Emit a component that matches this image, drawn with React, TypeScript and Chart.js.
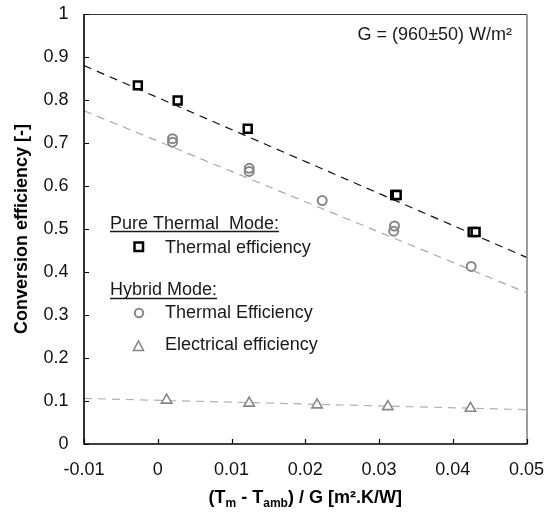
import React, { useEffect, useRef } from 'react';
import { Chart, registerables } from 'chart.js';

Chart.register(...registerables);

const FONT = '"Liberation Sans", Arial, Helvetica, sans-serif';

// ---- Data ----
const xTickValues = [-0.01, 0, 0.01, 0.02, 0.03, 0.04, 0.05];
const yTickValues = [0, 0.1, 0.2, 0.3, 0.4, 0.5, 0.6, 0.7, 0.8, 0.9, 1];

const pureThermalX = [-0.0027, 0.0027, 0.0122, 0.0322, 0.0324, 0.0427, 0.0431];
const pureThermalY = [0.834, 0.799, 0.733, 0.579, 0.579, 0.493, 0.493];

const hybridThermalX = [0.002, 0.002, 0.0124, 0.0124, 0.0223, 0.0321, 0.032, 0.0425];
const hybridThermalY = [0.71, 0.702, 0.641, 0.634, 0.566, 0.507, 0.495, 0.413];

const electricalX = [0.0012, 0.0124, 0.0216, 0.0312, 0.0424];
const electricalY = [0.102, 0.095, 0.091, 0.087, 0.083];

const trendX = [-0.01, 0.05];
const pureThermalTrendY = [0.88, 0.434];
const hybridThermalTrendY = [0.775, 0.352];
const electricalTrendY = [0.106, 0.08];

const annotationText = 'G = (960±50) W/m²';

const zip = (xs: number[], ys: number[]) => xs.map((x, i) => ({ x, y: ys[i] }));

const MARKER_GRAY = '#878787';

const decorPlugin = {
  id: 'decor',
  afterDatasetsDraw(chart: any) {
    const ctx: CanvasRenderingContext2D = chart.ctx;
    const { left, right, top, bottom } = chart.chartArea;
    const xs = chart.scales.x;
    const ys = chart.scales.y;
    ctx.save();
    // top/right frame
    ctx.strokeStyle = '#3a3a3a';
    ctx.lineWidth = 1;
    ctx.beginPath();
    ctx.moveTo(left, top + 0.5);
    ctx.lineTo(right + 0.5, top + 0.5);
    ctx.lineTo(right + 0.5, bottom);
    ctx.stroke();
    // axes
    ctx.strokeStyle = '#000';
    ctx.lineWidth = 1.6;
    ctx.beginPath();
    ctx.moveTo(left, top);
    ctx.lineTo(left, bottom);
    ctx.lineTo(right + 1, bottom);
    ctx.stroke();
    // inward ticks
    ctx.lineWidth = 1.2;
    ctx.beginPath();
    for (const v of xTickValues) {
      const px = Math.round(xs.getPixelForValue(v)) + 0.5;
      ctx.moveTo(px, bottom);
      ctx.lineTo(px, bottom - 5);
    }
    for (const v of yTickValues) {
      const py = Math.round(ys.getPixelForValue(v)) + 0.5;
      ctx.moveTo(left, py);
      ctx.lineTo(left + 5, py);
    }
    ctx.stroke();

    // annotation
    ctx.fillStyle = '#1a1a1a';
    ctx.font = `18px ${FONT}`;
    ctx.textAlign = 'right';
    ctx.textBaseline = 'middle';
    ctx.fillText(annotationText, 512, 35);

    // legend
    ctx.textAlign = 'left';
    const heading = (t: string, x: number, y: number, uy: number) => {
      ctx.fillStyle = '#1a1a1a';
      ctx.fillText(t, x, y);
      const w = ctx.measureText(t).width;
      ctx.strokeStyle = '#1a1a1a';
      ctx.lineWidth = 1.5;
      ctx.beginPath();
      ctx.moveTo(x, uy);
      ctx.lineTo(x + w, uy);
      ctx.stroke();
    };
    heading('Pure Thermal  Mode:', 110, 224, 231.5);
    heading('Hybrid Mode:', 110, 290, 298.5);
    ctx.fillStyle = '#1a1a1a';
    ctx.fillText('Thermal efficiency', 165, 248);
    ctx.fillText('Thermal Efficiency', 165, 313);
    ctx.fillText('Electrical efficiency', 165, 345);

    // legend markers
    ctx.strokeStyle = '#000';
    ctx.lineWidth = 2.5;
    ctx.strokeRect(134.5, 242.5, 8.5, 8.5);
    ctx.strokeStyle = MARKER_GRAY;
    ctx.lineWidth = 2;
    ctx.beginPath();
    ctx.arc(139, 313, 4.2, 0, Math.PI * 2);
    ctx.stroke();
    ctx.lineWidth = 1.6;
    ctx.beginPath();
    ctx.moveTo(138.5, 341);
    ctx.lineTo(143.5, 350.5);
    ctx.lineTo(133.5, 350.5);
    ctx.closePath();
    ctx.stroke();

    // y title
    ctx.save();
    ctx.translate(22, (top + bottom) / 2);
    ctx.rotate(-Math.PI / 2);
    ctx.font = `bold 18px ${FONT}`;
    ctx.fillStyle = '#000';
    ctx.textAlign = 'center';
    ctx.textBaseline = 'middle';
    ctx.fillText('Conversion efficiency [-]', 0, 0);
    ctx.restore();

    // x title with subscripts
    const parts: [string, boolean][] = [
      ['(T', false],
      ['m', true],
      [' - T', false],
      ['amb', true],
      [') / G [m².K/W]', false],
    ];
    const mainFont = `bold 18px ${FONT}`;
    const subFont = `bold 12px ${FONT}`;
    let total = 0;
    for (const [t, sub] of parts) {
      ctx.font = sub ? subFont : mainFont;
      total += ctx.measureText(t).width;
    }
    let cx = (left + right) / 2 - total / 2;
    const baseY = 503;
    ctx.textAlign = 'left';
    ctx.textBaseline = 'alphabetic';
    ctx.fillStyle = '#000';
    for (const [t, sub] of parts) {
      ctx.font = sub ? subFont : mainFont;
      ctx.fillText(t, cx, sub ? baseY + 4 : baseY);
      cx += ctx.measureText(t).width;
    }
    ctx.restore();
  },
};

export default function App() {
  const ref = useRef<HTMLCanvasElement>(null);
  useEffect(() => {
    document.body.style.margin = '0';
    const canvas = ref.current;
    if (!canvas) return;
    const chart = new Chart(canvas, {
      type: 'scatter',
      data: {
        datasets: [
          {
            label: 'Pure thermal efficiency',
            data: zip(pureThermalX, pureThermalY),
            pointStyle: 'rect',
            pointRadius: 5.6,
            pointBorderWidth: 2.5,
            pointBorderColor: '#000',
            pointBackgroundColor: '#fff',
            showLine: false,
          },
          {
            label: 'Hybrid thermal efficiency',
            data: zip(hybridThermalX, hybridThermalY),
            pointStyle: 'circle',
            pointRadius: 4.5,
            pointBorderWidth: 2,
            pointBorderColor: MARKER_GRAY,
            pointBackgroundColor: 'rgba(255,255,255,0)',
            showLine: false,
          },
          {
            label: 'Electrical efficiency',
            data: zip(electricalX, electricalY),
            pointStyle: 'triangle',
            pointRadius: 6,
            pointBorderWidth: 1.6,
            pointBorderColor: MARKER_GRAY,
            pointBackgroundColor: '#fff',
            showLine: false,
          },
          {
            label: 'Pure thermal trend',
            data: zip(trendX, pureThermalTrendY),
            showLine: true,
            borderColor: '#111',
            borderWidth: 1.2,
            borderDash: [8, 6],
            pointRadius: 0,
          },
          {
            label: 'Hybrid thermal trend',
            data: zip(trendX, hybridThermalTrendY),
            showLine: true,
            borderColor: '#a8a8a8',
            borderWidth: 1.2,
            borderDash: [8, 6],
            pointRadius: 0,
          },
          {
            label: 'Electrical trend',
            data: zip(trendX, electricalTrendY),
            showLine: true,
            borderColor: '#b0b0b0',
            borderWidth: 1.2,
            borderDash: [8, 6],
            pointRadius: 0,
          },
        ],
      },
      plugins: [decorPlugin],
      options: {
        responsive: false,
        animation: false,
        layout: { padding: { left: 0, top: 14, right: 25.5, bottom: 0 } },
        plugins: {
          legend: { display: false },
          tooltip: { enabled: false },
        },
        scales: {
          x: {
            type: 'linear',
            min: -0.01,
            max: 0.05,
            afterFit: (s: any) => {
              s.height = 76;
              s.paddingLeft = 0;
              s.paddingRight = 0;
              s.paddingTop = 0;
              s.paddingBottom = 0;
            },
            afterBuildTicks: (s: any) => {
              s.ticks = xTickValues.map((v) => ({ value: v }));
            },
            grid: { display: false, drawTicks: false },
            border: { display: false },
            ticks: {
              padding: 15,
              color: '#111',
              font: { family: FONT, size: 18 },
              callback: (v: any) => String(Number(Number(v).toFixed(2))),
            },
          },
          y: {
            type: 'linear',
            min: 0,
            max: 1,
            afterFit: (s: any) => {
              s.width = 84;
              s.paddingLeft = 0;
              s.paddingRight = 0;
              s.paddingTop = 0;
              s.paddingBottom = 0;
            },
            afterBuildTicks: (s: any) => {
              s.ticks = yTickValues.map((v) => ({ value: v }));
            },
            grid: { display: false, drawTicks: false },
            border: { display: false },
            ticks: {
              padding: 15.5,
              color: '#111',
              font: { family: FONT, size: 18 },
              callback: (v: any) => String(Number(Number(v).toFixed(1))),
            },
          },
        },
      },
    });
    return () => chart.destroy();
  }, []);
  return (
    <div style={{ width: 552, height: 520, position: 'relative' }}>
      <canvas ref={ref} width={552} height={520} style={{ width: 552, height: 520, display: 'block' }} />
    </div>
  );
}
